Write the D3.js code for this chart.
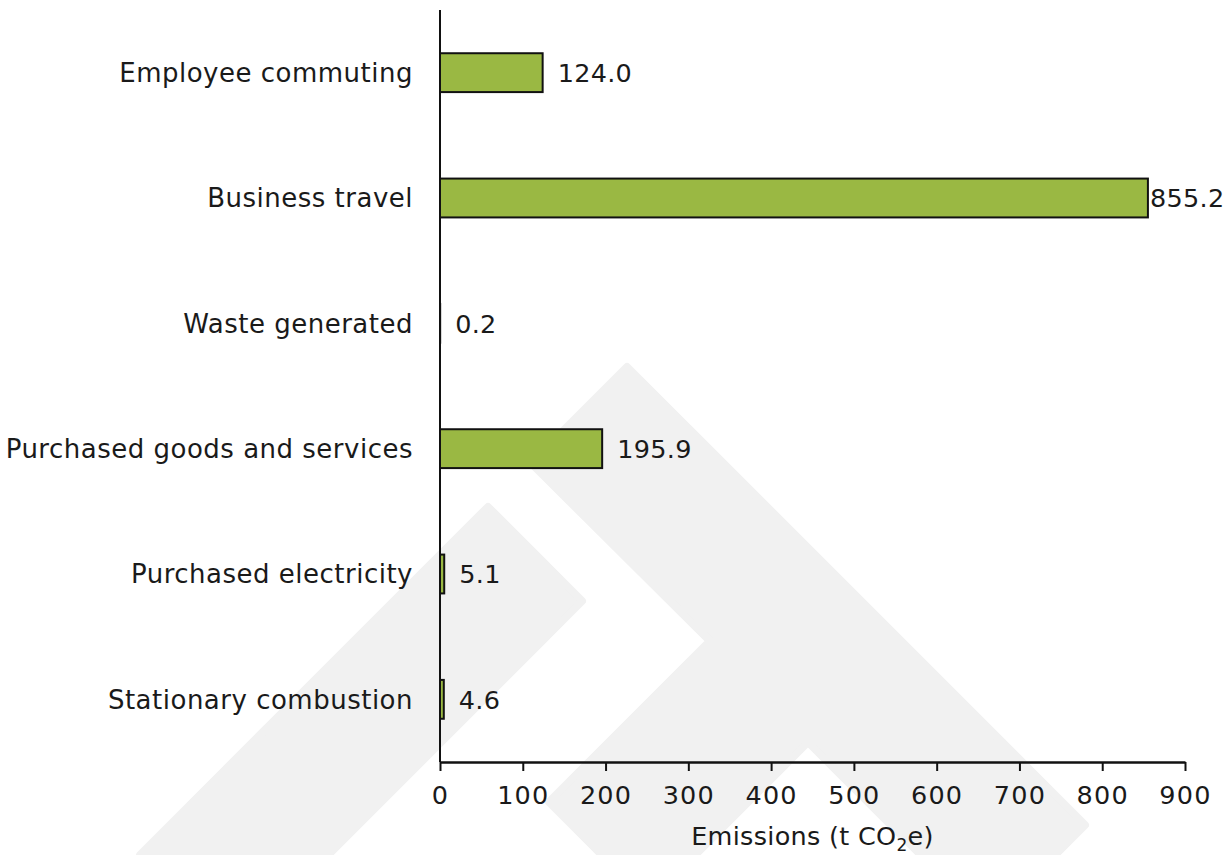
<!DOCTYPE html>
<html>
<head>
<meta charset="utf-8">
<script src="https://cdn.jsdelivr.net/npm/d3@7"></script>
<style>
  html, body { margin: 0; padding: 0; background: #ffffff; }
  svg { display: block; }
  text { font-family: "DejaVu Sans", sans-serif; fill: #1a1a1a; }
</style>
</head>
<body>
<svg id="chart" width="1228" height="855"></svg>
<script>
// ---- data ----
const categories = [
  "Employee commuting",
  "Business travel",
  "Waste generated",
  "Purchased goods and services",
  "Purchased electricity",
  "Stationary combustion"
];
const emissions = [124.0, 855.2, 0.2, 195.9, 5.1, 4.6];
const valueLabels = ["124.0", "855.2", "0.2", "195.9", "5.1", "4.6"];
const xTicks = [0, 100, 200, 300, 400, 500, 600, 700, 800, 900];
const xTitle = "Emissions (t CO";
const xTitleSub = "2";
const xTitleEnd = "e)";

// watermark shapes (background decoration)
const watermarkA = [[488,507],[582,601],[328,855],[140,855]];
const watermarkB = [[627,367],[1085,825],[1055,855],[921,855],[808,742],[695,855],[602,855],[549,802],[710,641],[531,463]];

const svg = d3.select("#chart");
const W = 1228, H = 855;
const margin = { left: 440, right: 43, top: 10, bottom: 93 };
const plotW = W - margin.left - margin.right;
const plotH = H - margin.top - margin.bottom;

// watermark
const line = d3.line().curve(d3.curveLinearClosed);
svg.append("g").selectAll("path")
  .data([watermarkA, watermarkB])
  .join("path")
  .attr("d", d => line(d))
  .attr("fill", "#f1f1f1")
  .attr("stroke", "#f1f1f1")
  .attr("stroke-width", 8)
  .attr("stroke-linejoin", "round");

const x = d3.scaleLinear().domain([0, 900]).range([margin.left, margin.left + plotW]);
const y = d3.scaleBand().domain(categories)
  .range([margin.top, margin.top + plotH])
  .paddingInner(0.69).paddingOuter(0.345);

// bars
svg.append("g").selectAll("rect")
  .data(categories)
  .join("rect")
  .attr("x", x(0))
  .attr("y", d => y(d))
  .attr("width", (d, i) => x(emissions[i]) - x(0))
  .attr("height", y.bandwidth())
  .attr("fill", "#9ab843")
  .attr("stroke", "#111")
  .attr("stroke-width", 2);

// value labels
const labelRight = 1219;
svg.append("g").selectAll("text")
  .data(categories)
  .join("text")
  .attr("y", d => y(d) + y.bandwidth() / 2)
  .attr("dy", "0.36em")
  .attr("font-size", 25.5)
  .attr("letter-spacing", 0.3)
  .text((d, i) => valueLabels[i])
  .each(function(d, i) {
    const w = this.getComputedTextLength();
    let px = x(emissions[i]) + 15;
    if (px + w > labelRight) px = x(emissions[i]) + 2;
    d3.select(this).attr("x", px);
  });

// category labels
svg.append("g").selectAll("text")
  .data(categories)
  .join("text")
  .attr("x", 413)
  .attr("y", d => y(d) + y.bandwidth() / 2)
  .attr("dy", "0.36em")
  .attr("text-anchor", "end")
  .attr("font-size", 26)
  .attr("letter-spacing", 0.5)
  .text(d => d);

// y axis line
svg.append("line")
  .attr("x1", x(0)).attr("x2", x(0))
  .attr("y1", margin.top).attr("y2", margin.top + plotH)
  .attr("stroke", "#111").attr("stroke-width", 2);

// x axis
const xAxis = svg.append("g")
  .attr("transform", `translate(0,${margin.top + plotH})`)
  .call(d3.axisBottom(x).tickValues(xTicks).tickSize(9).tickSizeOuter(0).tickPadding(15));
xAxis.select(".domain").attr("stroke", "#111").attr("stroke-width", 2.5);
xAxis.selectAll(".tick line").attr("stroke", "#111").attr("stroke-width", 2);
xAxis.selectAll(".tick text")
  .attr("font-family", "DejaVu Sans, sans-serif")
  .attr("font-size", 25.5)
  .attr("letter-spacing", 1.2)
  .attr("fill", "#1a1a1a");

// x axis title
const t = svg.append("text")
  .attr("x", x(450))
  .attr("y", 845)
  .attr("text-anchor", "middle")
  .attr("font-size", 25.5)
  .attr("letter-spacing", 0.3);
t.append("tspan").text(xTitle);
t.append("tspan").attr("font-size", 17).attr("dy", 6).text(xTitleSub);
t.append("tspan").attr("dy", -6).text(xTitleEnd);
</script>
</body>
</html>
